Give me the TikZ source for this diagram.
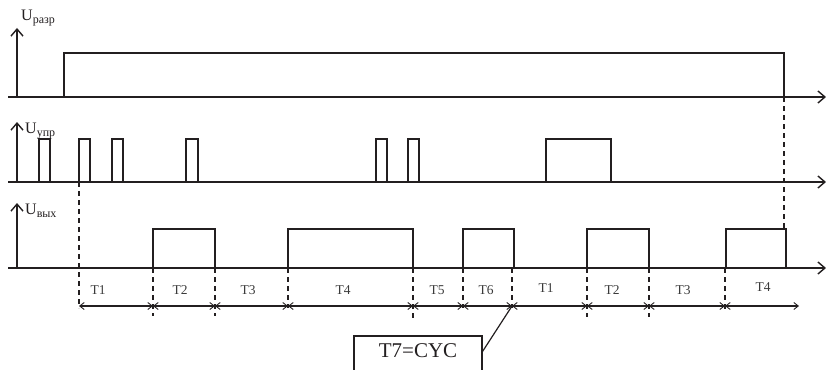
\documentclass[tikz,border=0pt]{standalone}
\usepackage{fontspec}
\setmainfont{Liberation Serif}
\usetikzlibrary{arrows.meta,positioning,calc}
\definecolor{ink}{HTML}{231F20}
\definecolor{muted}{HTML}{3A3A3A}
\tikzset{
  axis/.style={line width=1.6pt,draw=ink,-{Straight Barb[length=7pt,width=12pt,line width=1.4pt]}},
  sig/.style={line width=2.8pt,draw=ink,line join=miter},
  guide/.style={line width=1.2pt,draw=ink,dash pattern=on 5pt off 4pt},
  dim/.style={line width=1.3pt,draw=ink,{Straight Barb[length=4.5pt,width=7pt,line width=0.9pt]}-{Straight Barb[length=4.5pt,width=7pt,line width=0.9pt]}},
  ulbl/.style={font=\fontsize{16}{16}\selectfont,text=ink,inner sep=0pt,anchor=base west},
  tlbl/.style={font=\fontsize{13.5}{13.5}\selectfont,text=muted,inner sep=0pt},
  cycbox/.style={draw=ink,line width=1.2pt,font=\fontsize{21}{21}\selectfont,text=ink,minimum width=128pt,
                 text height=14pt,text depth=20pt,inner ysep=7pt,anchor=base},
}
\newcommand{\usub}[1]{\raisebox{-3pt}{\fontsize{12}{12}\selectfont #1}}
\begin{document}
\begin{tikzpicture}[x=1pt,y=-1pt]
\useasboundingbox (0,0) rectangle (826,369);
\clip (0,0) rectangle (826,369);
% axes
\draw[axis](8,97)--(826,97);\draw[axis](17,97)--(17,28);
\draw[axis](8,182)--(826,182);\draw[axis](17,182)--(17,122);
\draw[axis](8,268)--(826,268);\draw[axis](17,268)--(17,203);
\node[ulbl](ur) at (21,21){U\usub{разр}};
\node[ulbl](uu) at (25,133){U\usub{упр}};
\node[ulbl](uv) at (25,214){U\usub{вых}};
% signals
\draw[sig](64,97)--(64,53)--(784,53)--(784,97);
\foreach \a/\b in {39/50,79/90,112/123,186/198,376/387,408/419,546/611}
  \draw[sig](\a,182)--(\a,139)--(\b,139)--(\b,182);
\foreach \a/\b in {153/215,288/413,463/514,587/649,726/786}
  \draw[sig](\a,268)--(\a,229)--(\b,229)--(\b,268);
% time marks
\foreach \n/\x in {1/79,2/153,3/215,4/288,5/413,6/463,7/512,8/587,9/649,10/725,11/799}
  \coordinate (d\n) at (\x,306);
\draw[guide](79,182)--(79,308);\draw[guide](784,97)--(784,229);
\draw[guide](153,268)--(153,316);\draw[guide](215,268)--(215,316);
\draw[guide](288,268)--(288,308);\draw[guide](413,268)--(413,318);
\draw[guide](463,268)--(463,308);\draw[guide](512,268)--(512,308);
\draw[guide](587,268)--(587,317);\draw[guide](649,268)--(649,317);
\draw[guide](725,268)--(725,309);
\draw[dim](d1)--(d2);\draw[dim](d2)--(d3);\draw[dim](d3)--(d4);\draw[dim](d4)--(d5);\draw[dim](d5)--(d6);
\draw[dim](d6)--(d7);\draw[dim](d7)--(d8);\draw[dim](d8)--(d9);\draw[dim](d9)--(d10);\draw[dim](d10)--(d11);
\node[tlbl](t1) at (98,290){T1};\node[tlbl](t2) at (180,290){T2};
\node[tlbl](t3) at (248,290){T3};\node[tlbl](t4) at (343,290){T4};
\node[tlbl](t5) at (437,290){T5};\node[tlbl](t6) at (486,290){T6};
\node[tlbl](t1b) at (546,288){T1};\node[tlbl](t2b) at (612,290){T2};
\node[tlbl](t3b) at (683,290){T3};\node[tlbl](t4b) at (763,287){T4};
% cycle note
\node[cycbox](cyc) at (418,357){T7=CYC};
\draw[line width=1.2pt,draw=ink]([yshift=-16pt]cyc.north east)--(d7);
\end{tikzpicture}
\end{document}
